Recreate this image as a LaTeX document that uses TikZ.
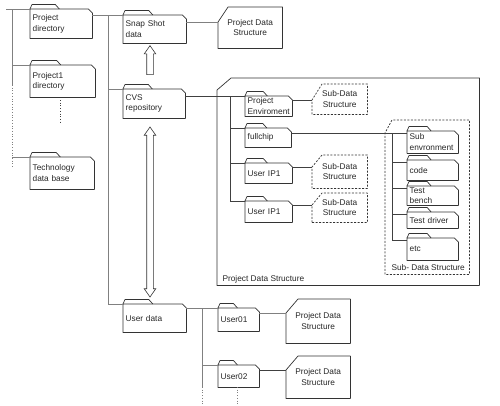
\documentclass[tikz,border=0pt]{standalone}
\usepackage{fontspec}
\setmainfont{Liberation Sans}
\usetikzlibrary{calc,shapes.arrows}

\begin{document}
\begin{tikzpicture}[x=1pt,y=-1pt,
  every node/.style={font=\fontsize{8.3}{10.5}\selectfont, text=black!85},
  folder/.style 2 args={anchor=north west, inner xsep=2.5pt, inner ysep=0pt, text width=#1pt, minimum height=#2pt, align=left},
  databox/.style 2 args={anchor=north west, inner sep=0pt, minimum width=#1pt, minimum height=#2pt, align=center},
  conn/.style={gray, line width=0.7pt},
  darkconn/.style={black!75, line width=0.7pt},
  outline/.style={black!80, line width=0.7pt, line join=round},
  dashbox/.style={dash pattern=on 2pt off 1.5pt},
  hollow/.style={draw=black!80, line width=0.6pt, inner xsep=0pt, inner ysep=3pt, rotate=90}]
\useasboundingbox (0,0) rectangle (500,405);

\node[folder={57}{29}] (pdir) at (30,9) {Project\\directory};
\node[folder={60}{32}] (p1dir) at (30,65) {Project1\\directory};
\node[folder={59}{32}] (techdb) at (30,157) {Technology\\data base};
\node[folder={58}{28}] (snap) at (123,15) {Snap Shot\\data};
\node[folder={57}{29}] (cvs) at (123,89) {CVS\\repository};
\node[folder={58}{28}] (udata) at (123,304) {User data};
\node[folder={42}{20}] (penv) at (245,96) {Project\\Enviroment};
\node[folder={41}{19}] (fchip) at (245,128) {fullchip};
\node[folder={42}{20}] (uipa) at (245,163) {User IP1};
\node[folder={42}{21}] (uipb) at (245,201) {User IP1};
\node[folder={46}{22}] (subenv) at (407,131) {Sub\\envronment};
\node[folder={46}{20}] (code) at (407,160) {code};
\node[folder={46}{19}] (tbench) at (407,186) {Test\\bench};
\node[folder={46}{16}] (tdriver) at (407,212) {Test driver};
\node[folder={46}{22}] (etc) at (407,238) {etc};
\node[folder={36}{23}] (uzero) at (218,308) {User01};
\node[folder={36}{22}] (utwo) at (218,365) {User02};

\node[databox={64}{41}] (pdsa) at (218,7) {Project Data\\Structure};
\node[databox={262}{207}] (pdsbig) at (217,78) {};
\node[databox={55}{30}] (sdsa) at (312,84) {Sub-Data\\Structure};
\node[databox={55}{33}] (sdsb) at (312,155) {Sub-Data\\Structure};
\node[databox={55}{29}] (sdsc) at (312,193) {Sub-Data\\Structure};
\node[databox={84}{154}] (subds) at (385,120) {};
\node[databox={64}{44}] (pdsb) at (286,299) {Project Data\\Structure};
\node[databox={64}{42}] (pdsc) at (286,356) {Project Data\\Structure};
\node[anchor=base west] (pdslbl) at ($(pdsbig.south west)+(2,-4)$) {Project Data Structure};
\node[anchor=base east] (subdslbl) at ($(subds.south east)+(-1,-4)$) {Sub- Data Structure};

\foreach \f in {pdir,p1dir,techdb,snap,cvs,udata,penv,fchip,uipa,uipb,subenv,code,tbench,tdriver,etc,uzero,utwo}
{
  \draw[outline] (\f.south west) -- (\f.north west) -- ($(\f.north east)+(-4,0)$) -- ($(\f.north east)+(0,4)$) -- (\f.south east) -- cycle;
  \draw[outline] (\f.north west) -- ++(2,-4.5) -- ($(\f.north west)!0.47!(\f.north east)+(-4,-4.5)$) -- ($(\f.north west)!0.47!(\f.north east)$);
}
\foreach \b/\cx/\cy/\s in {pdsa/10/15/solid,pdsbig/14/12/solid,sdsa/10/16/dashbox,sdsb/10/12/dashbox,sdsc/10/12/dashbox,subds/7/13/dashbox,pdsb/12/14/solid,pdsc/12/14/solid}
{
  \draw[outline,\s] (\b.south west) -- ($(\b.north west)+(0,\cy)$) coordinate (\b-in) -- ($(\b.north west)+(\cx,0)$) -- (\b.north east) -- (\b.south east) -- cycle;
}

\coordinate (ltop) at (6,9);
\coordinate (ltrunk) at (12,9);
\coordinate (lsolid) at (12,85);
\coordinate (lend) at (12,167);
\coordinate (dotsa) at (60,100);
\coordinate (dotsb) at (60,123);
\path[draw,conn] (ltop) -- (pdir.north west);
\path[draw,conn] (ltrunk) -- (lsolid);
\path[draw,conn,dotted] (lsolid) -- (lend);
\path[draw,conn] (ltrunk |- p1dir.north west) -- (p1dir.north west);
\path[draw,conn] (ltrunk |- techdb.north west) -- (techdb.north west);
\path[draw,darkconn,dotted] (dotsa) -- (dotsb);

\coordinate (mtrunk) at (108,15);
\path[draw,conn] ($(pdir.north east)+(0,6)$) -- (snap.north west);
\path[draw,conn] (mtrunk) -- (mtrunk |- udata.north west);
\path[draw,conn] (mtrunk |- cvs.north west) -- (cvs.north west);
\path[draw,conn] (mtrunk |- udata.north west) -- (udata.north west);
\path[draw,conn] (pdsa-in) -- (snap.east |- pdsa-in);

\node[hollow, single arrow, single arrow head extend=2.5pt, single arrow tip angle=70, minimum height=29pt] (snaparrow) at (150,62.5) {};
\node[hollow, double arrow, double arrow head extend=2.5pt, double arrow tip angle=70, minimum height=170pt] (cvsarrow) at (150,212) {};

\coordinate (strunk) at (230,96);
\path[draw,darkconn] ($(cvs.north east)+(0,7)$) -- (penv.north west);
\path[draw,darkconn] (strunk) -- (strunk |- uipb.north west);
\path[draw,darkconn] (strunk |- fchip.north west) -- (fchip.north west);
\path[draw,darkconn] (strunk |- uipa.north west) -- (uipa.north west);
\path[draw,darkconn] (strunk |- uipb.north west) -- (uipb.north west);
\path[draw,darkconn] (sdsa-in) -- (penv.east |- sdsa-in);
\path[draw,darkconn] (sdsb-in) -- (uipa.east |- sdsb-in);
\path[draw,darkconn] (sdsc-in) -- (uipb.east |- sdsc-in);

\coordinate (sin) at ($(subenv.north west)+(0,2)$);
\coordinate (ttrunk) at (392,133);
\path[draw,darkconn] (fchip.east |- sin) -- (sin);
\path[draw,darkconn] (ttrunk) -- ($(ttrunk |- etc.north west)+(0,2)$);
\foreach \f in {code,tbench,tdriver,etc}
  \path[draw,darkconn] ($(ttrunk |- \f.north west)+(0,2)$) -- ($(\f.north west)+(0,2)$);

\coordinate (utrunk) at (202,308);
\coordinate (usolid) at (202,387);
\coordinate (uend) at (202,405);
\coordinate (udotsa) at (237,387);
\coordinate (udotsb) at (237,405);
\path[draw,conn] ($(udata.north east)+(0,4)$) -- (uzero.north west);
\path[draw,conn] (utrunk) -- (usolid);
\path[draw,conn,dotted] (usolid) -- (uend);
\path[draw,conn] (utrunk |- utwo.north west) -- (utwo.north west);
\path[draw,conn] (pdsb-in) -- (uzero.east |- pdsb-in);
\path[draw,darkconn] (pdsc-in) -- (utwo.east |- pdsc-in);
\path[draw,conn,dotted] (udotsa) -- (udotsb);
\end{tikzpicture}
\end{document}
